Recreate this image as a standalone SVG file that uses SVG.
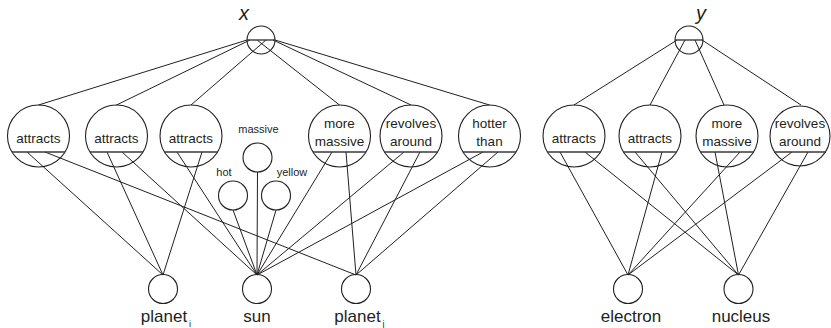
<svg xmlns="http://www.w3.org/2000/svg" width="831" height="328" viewBox="0 0 831 328">
<style>
.n{fill:none;stroke:#231f20;stroke-width:1.1}
.c{stroke:#3a3a3a;stroke-width:1.4}
.e line{stroke:#231f20;stroke-width:1}
text{font-family:"Liberation Sans",Arial,sans-serif;fill:#231f20;text-anchor:middle}
.t{font-size:13.5px}
.s{font-size:11px}
.b{font-size:17px}
.v{font-size:20px;font-style:italic}
.sub{font-size:9px;text-anchor:start}
</style>
<rect width="831" height="328" fill="#fff"/>
<g id="connectors" class="e">
<line x1="247" y1="40" x2="38.5" y2="105"/>
<line x1="250" y1="40" x2="116.5" y2="105"/>
<line x1="266" y1="40" x2="191" y2="105"/>
<line x1="257" y1="40" x2="339.5" y2="105"/>
<line x1="273" y1="40" x2="411" y2="105"/>
<line x1="275" y1="40" x2="489.5" y2="105"/>
<line x1="27" y1="152" x2="163" y2="275"/>
<line x1="45" y1="152" x2="356" y2="275"/>
<line x1="107" y1="152" x2="163" y2="275"/>
<line x1="122" y1="152" x2="257" y2="275"/>
<line x1="177" y1="152" x2="257" y2="275"/>
<line x1="202" y1="152" x2="163" y2="275"/>
<line x1="332" y1="152" x2="257" y2="275"/>
<line x1="346" y1="152" x2="356" y2="275"/>
<line x1="404" y1="152" x2="257" y2="275"/>
<line x1="420" y1="152" x2="356" y2="275"/>
<line x1="483" y1="152" x2="257" y2="275"/>
<line x1="498" y1="152" x2="356" y2="275"/>
<line x1="257.5" y1="172" x2="257" y2="275"/>
<line x1="233" y1="210" x2="257" y2="275"/>
<line x1="276" y1="210" x2="257" y2="275"/>
<line x1="677" y1="40" x2="574" y2="105"/>
<line x1="685" y1="40" x2="650" y2="105"/>
<line x1="695" y1="40" x2="724" y2="105"/>
<line x1="702" y1="40" x2="801" y2="105"/>
<line x1="560" y1="152" x2="628" y2="275"/>
<line x1="585" y1="152" x2="738.5" y2="275"/>
<line x1="635" y1="152" x2="738.5" y2="275"/>
<line x1="662" y1="152" x2="628" y2="275"/>
<line x1="715" y1="152" x2="738.5" y2="275"/>
<line x1="740" y1="152" x2="628" y2="275"/>
<line x1="792" y1="152" x2="628" y2="275"/>
<line x1="808" y1="152" x2="738.5" y2="275"/>
</g>
<g id="node-x"><circle class="n" cx="261" cy="40" r="14"/><line class="c" x1="247" y1="40" x2="275" y2="40"/><text class="v" x="244" y="20">x</text></g>
<g id="node-attracts1"><circle class="n" cx="38.5" cy="136" r="31"/><line class="c" x1="12" y1="152" x2="65" y2="152"/><text class="t" x="38.5" y="143">attracts</text></g>
<g id="node-attracts2"><circle class="n" cx="116.5" cy="136" r="31"/><line class="c" x1="90" y1="152" x2="143" y2="152"/><text class="t" x="116.5" y="143">attracts</text></g>
<g id="node-attracts3"><circle class="n" cx="191" cy="136" r="31"/><line class="c" x1="164.5" y1="152" x2="217.5" y2="152"/><text class="t" x="191" y="143">attracts</text></g>
<g id="node-more-massive-x"><circle class="n" cx="339.5" cy="136" r="31"/><line class="c" x1="313" y1="152" x2="366" y2="152"/><text class="t" x="339.5" y="128">more</text><text class="t" x="339.5" y="146">massive</text></g>
<g id="node-revolves-x"><circle class="n" cx="411" cy="136" r="31"/><line class="c" x1="384.5" y1="152" x2="437.5" y2="152"/><text class="t" x="411" y="128">revolves</text><text class="t" x="411" y="146">around</text></g>
<g id="node-hotter"><circle class="n" cx="489.5" cy="136" r="31"/><line class="c" x1="463" y1="152" x2="516" y2="152"/><text class="t" x="489.5" y="128">hotter</text><text class="t" x="489.5" y="146">than</text></g>
<g id="node-massive"><circle class="n" cx="257.5" cy="157.5" r="14.5"/><text class="s" x="258.5" y="133">massive</text></g>
<g id="node-hot"><circle class="n" cx="233" cy="195.5" r="14.5"/><text class="s" x="224" y="176">hot</text></g>
<g id="node-yellow"><circle class="n" cx="276" cy="195.5" r="14.5"/><text class="s" x="292" y="176">yellow</text></g>
<g id="node-planet-i"><circle class="n" cx="163" cy="289" r="14.5"/><text class="b" x="164" y="322">planet</text><text class="sub" x="189" y="327">i</text></g>
<g id="node-sun"><circle class="n" cx="257" cy="289" r="14.5"/><text class="b" x="257" y="322">sun</text></g>
<g id="node-planet-j"><circle class="n" cx="356" cy="289" r="14.5"/><text class="b" x="357.5" y="322">planet</text><text class="sub" x="382.5" y="327">j</text></g>
<g id="node-y"><circle class="n" cx="689" cy="40" r="14"/><line class="c" x1="675" y1="40" x2="703" y2="40"/><text class="v" x="701" y="20">y</text></g>
<g id="node-attracts4"><circle class="n" cx="574" cy="136" r="31"/><line class="c" x1="547.5" y1="152" x2="600.5" y2="152"/><text class="t" x="574" y="143">attracts</text></g>
<g id="node-attracts5"><circle class="n" cx="650" cy="136" r="31"/><line class="c" x1="623.5" y1="152" x2="676.5" y2="152"/><text class="t" x="650" y="143">attracts</text></g>
<g id="node-more-massive-y"><circle class="n" cx="727" cy="136" r="31"/><line class="c" x1="700.5" y1="152" x2="753.5" y2="152"/><text class="t" x="727" y="128">more</text><text class="t" x="727" y="146">massive</text></g>
<g id="node-revolves-y"><circle class="n" cx="800" cy="136" r="30"/><line class="c" x1="774" y1="152" x2="826" y2="152"/><text class="t" x="800" y="128">revolves</text><text class="t" x="800" y="146">around</text></g>
<g id="node-electron"><circle class="n" cx="628" cy="289" r="14.5"/><text class="b" x="631" y="322">electron</text></g>
<g id="node-nucleus"><circle class="n" cx="738.5" cy="289" r="14.5"/><text class="b" x="741" y="322">nucleus</text></g>
</svg>
